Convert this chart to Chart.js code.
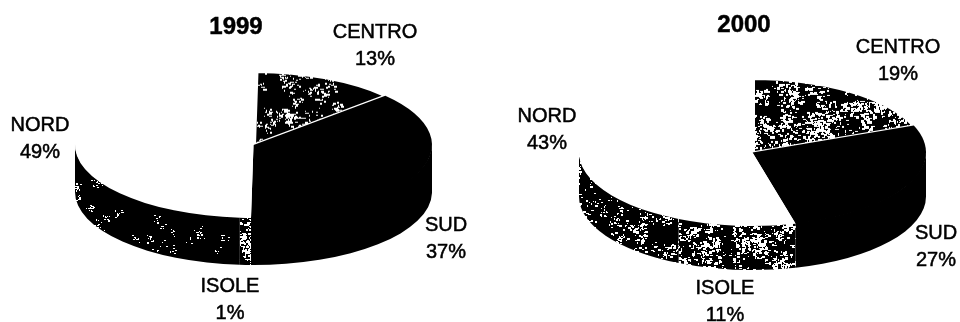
<!DOCTYPE html>
<html>
<head>
<meta charset="utf-8">
<title>1999 / 2000</title>
<script src="https://cdn.jsdelivr.net/npm/chart.js@4/dist/chart.umd.min.js"></script>
<style>
  html, body { margin: 0; background: #fff; overflow: hidden; }
  canvas { position: absolute; top: 0; }
  #pie-a { left: 0; }
  #pie-b { left: 480px; }
</style>
</head>
<body>
<canvas id="pie-a" width="480" height="322"></canvas>
<canvas id="pie-b" width="480" height="322"></canvas>
<script>
// ── Data ────────────────────────────────────────────────────────────────────
const categories = ['CENTRO', 'SUD', 'ISOLE', 'NORD'];
const years      = ['1999', '2000'];
const values1999 = [13, 37, 1, 49];
const values2000 = [19, 27, 11, 43];

// ── Speckled fills ──────────────────────────────────────────────────────────
// Black tile with white blotches of dots, from a small seeded generator so the
// texture comes out the same on every load.
function speckle(clusters, spread, maxDot, seed) {
  const size = 256;
  const tile = document.createElement('canvas');
  tile.width = tile.height = size;
  const c = tile.getContext('2d');
  c.fillStyle = '#000';
  c.fillRect(0, 0, size, size);
  c.fillStyle = '#fff';
  let s = seed;
  const next = () => {
    s = (s + 0x6D2B79F5) | 0;
    let t = Math.imul(s ^ (s >>> 15), 1 | s);
    t = (t + Math.imul(t ^ (t >>> 7), 61 | t)) ^ t;
    return ((t ^ (t >>> 14)) >>> 0) / 4294967296;
  };
  for (let i = 0; i < clusters; i++) {
    const cx = next() * size, cy = next() * size;
    const dots = 4 + Math.floor(next() * 10);
    for (let j = 0; j < dots; j++) {
      const x = cx + (next() - 0.5) * spread;
      const y = cy + (next() - 0.5) * spread;
      const w = 1 + Math.floor(next() * maxDot), h = 1 + Math.floor(next() * maxDot * 0.8);
      c.fillRect(Math.floor(x + size) % size, Math.floor(y + size) % size, w, h);
    }
  }
  return c.createPattern(tile, 'repeat');
}

// ── 3D pie plugin ───────────────────────────────────────────────────────────
// Draws the rim below the front half of each slice, squashes the flat pie into
// an ellipse while the library paints it, then writes the labels.
const tiltedPie = {
  id: 'tiltedPie',
  beforeDatasetsDraw(chart, args, opts) {
    const ctx = chart.ctx;
    const arcs = chart.getDatasetMeta(0).data;
    arcs.forEach((arc, i) => {
      const a0 = Math.max(arc.startAngle, 0);
      const a1 = Math.min(arc.endAngle, Math.PI);
      if (a1 <= a0) return;
      const rx = arc.outerRadius, ry = rx * opts.squash;
      ctx.beginPath();
      // start a pixel high so the top face overlaps the rim with no seam
      ctx.ellipse(arc.x, arc.y - 1, rx, ry, 0, a0, a1);
      ctx.ellipse(arc.x, arc.y + opts.depth, rx, ry, 0, a1, a0, true);
      ctx.closePath();
      ctx.fillStyle = opts.rim[i];
      ctx.fill();
    });
    const { x, y } = arcs[0];
    ctx.save();
    ctx.translate(x, y);
    ctx.scale(1, opts.squash);
    ctx.translate(-x, -y);
  },
  afterDatasetsDraw(chart) {
    chart.ctx.restore();
  },
  afterDraw(chart, args, opts) {
    const ctx = chart.ctx;
    const values = chart.data.datasets[0].data;
    const put = (text, x, y) => {
      ctx.fillText(text, x, y);
      ctx.strokeText(text, x, y);
    };
    ctx.save();
    ctx.fillStyle = '#000';
    ctx.strokeStyle = '#000';
    ctx.lineWidth = 0.5;
    ctx.textAlign = 'center';
    ctx.textBaseline = 'middle';
    ctx.font = 'bold 24px "Liberation Sans"';
    put(opts.heading, opts.headingAt[0], opts.headingAt[1]);
    ctx.font = '20px "Liberation Sans"';
    chart.data.labels.forEach((name, i) => {
      const [lx, ly] = opts.labelAt[i];
      put(name, lx, ly);
      put(values[i] + '%', lx, ly + 27);
    });
    ctx.restore();
  }
};

function makePie(id, values, cfg) {
  cfg.topFill.setTransform(new DOMMatrix([1, 0, 0, 1 / cfg.squash, 0, 0]));
  return new Chart(document.getElementById(id), {
    type: 'pie',
    data: {
      labels: categories,
      datasets: [{
        data: values,
        backgroundColor: [cfg.topFill, '#000', '#fff', '#fff'],
        borderColor: '#fff',
        borderWidth: [5, 0, 0, 0],
        radius: cfg.radius,
        rotation: cfg.rotation,
        clip: false
      }]
    },
    plugins: [tiltedPie],
    options: {
      responsive: false,
      animation: false,
      layout: { padding: cfg.padding },
      plugins: {
        legend: { display: false },
        tooltip: { enabled: false },
        tiltedPie: {
          squash: cfg.squash,
          depth: cfg.depth,
          rim: cfg.rim,
          heading: cfg.heading,
          headingAt: cfg.headingAt,
          labelAt: cfg.labelAt
        }
      }
    }
  });
}

// ── Charts ──────────────────────────────────────────────────────────────────
makePie('pie-a', values1999, {
  heading: years[0],
  headingAt: [236, 27],
  radius: 178.5,
  rotation: 0.8,
  squash: 73 / 178.5,
  depth: 47,
  padding: { left: 27, right: 0, top: 0, bottom: 32 },
  topFill: speckle(520, 9, 2.4, 11),
  rim: ['#000', '#000', speckle(1300, 8, 2.4, 29), speckle(130, 8, 1.6, 7)],
  labelAt: [[375, 32], [446, 225], [230, 286], [40, 125]]
});

makePie('pie-b', values2000, {
  heading: years[1],
  headingAt: [264, 25],
  radius: 173.5,
  rotation: 0,
  squash: 73.5 / 173.5,
  depth: 44,
  padding: { left: 65, right: 0, top: 0, bottom: 17 },
  topFill: speckle(780, 12, 3, 3),
  rim: ['#000', '#000', speckle(800, 12, 3, 41), speckle(480, 11, 2.4, 17)],
  labelAt: [[418, 47], [456, 233], [245, 288], [67, 116]]
});
</script>
</body>
</html>
